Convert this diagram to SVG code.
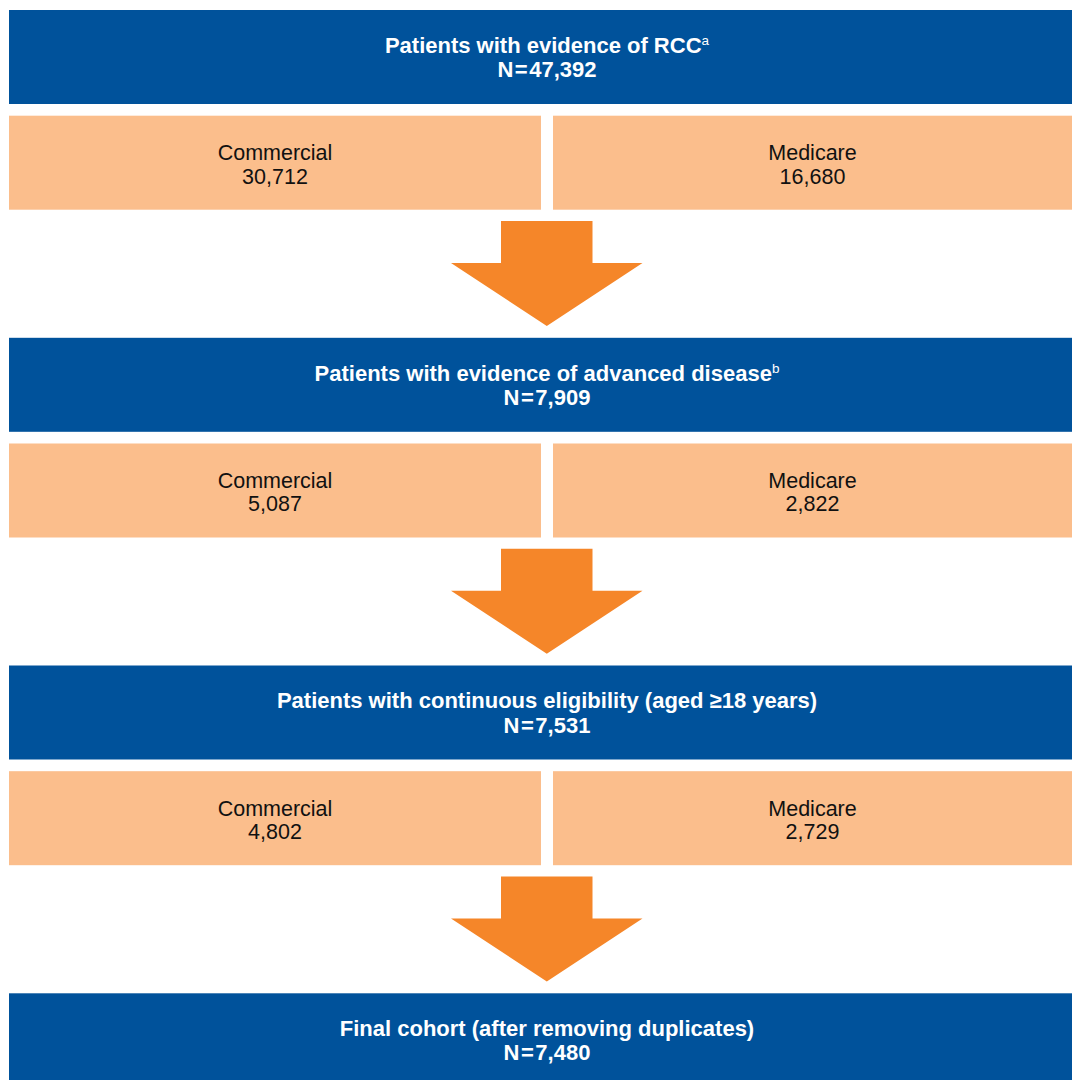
<svg xmlns="http://www.w3.org/2000/svg" width="1072" height="1080" viewBox="0 0 1072 1080">
<style>
.blue{fill:#00529B}
.peach{fill:#FBBE8C}
.arrow{fill:#F58629}
.t{font-family:"Liberation Sans",Arial,sans-serif;font-size:21.5px;text-anchor:middle}
.tb{fill:#FFFFFF;font-weight:bold;font-size:22px}
.tr{fill:#111111}
.sup{font-size:13.5px;font-weight:normal}
</style>
<rect width="1072" height="1080" fill="#FFFFFF"/>
<defs>
<polygon id="arr" points="501,0 592.5,0 592.5,42 642.5,42 546.8,105 451,42 501,42"/>
</defs>
<g id="connectors">
<use href="#arr" class="arrow" y="221"/>
<use href="#arr" class="arrow" y="548.8"/>
<use href="#arr" class="arrow" y="876.5"/>
</g>
<g id="rcc">
<rect class="blue" x="9" y="10" width="1063" height="94"/>
<text class="t tb" x="547" y="52.7">Patients with evidence of RCC<tspan class="sup" dy="-7.5">a</tspan></text>
<text class="t tb" x="547" y="77">N<tspan dx="1.5">=</tspan><tspan dx="1.5">47,392</tspan></text>
</g>
<g id="rcc-commercial">
<rect class="peach" x="9" y="115.7" width="532" height="94"/>
<text class="t tr" x="275" y="160">Commercial</text>
<text class="t tr" x="275" y="183.5">30,712</text>
</g>
<g id="rcc-medicare">
<rect class="peach" x="553" y="115.7" width="519" height="94"/>
<text class="t tr" x="812.5" y="160">Medicare</text>
<text class="t tr" x="812.5" y="183.5">16,680</text>
</g>
<g id="advanced">
<rect class="blue" x="9" y="337.8" width="1063" height="94"/>
<text class="t tb" x="547" y="380.5">Patients with evidence of advanced disease<tspan class="sup" dy="-7.5">b</tspan></text>
<text class="t tb" x="547" y="404.8">N<tspan dx="1.5">=</tspan><tspan dx="1.5">7,909</tspan></text>
</g>
<g id="advanced-commercial">
<rect class="peach" x="9" y="443.5" width="532" height="94"/>
<text class="t tr" x="275" y="487.8">Commercial</text>
<text class="t tr" x="275" y="511.3">5,087</text>
</g>
<g id="advanced-medicare">
<rect class="peach" x="553" y="443.5" width="519" height="94"/>
<text class="t tr" x="812.5" y="487.8">Medicare</text>
<text class="t tr" x="812.5" y="511.3">2,822</text>
</g>
<g id="eligibility">
<rect class="blue" x="9" y="665.5" width="1063" height="94"/>
<text class="t tb" x="547" y="708.2">Patients with continuous eligibility (aged ≥18 years)</text>
<text class="t tb" x="547" y="732.5">N<tspan dx="1.5">=</tspan><tspan dx="1.5">7,531</tspan></text>
</g>
<g id="eligibility-commercial">
<rect class="peach" x="9" y="771.2" width="532" height="94"/>
<text class="t tr" x="275" y="815.5">Commercial</text>
<text class="t tr" x="275" y="839">4,802</text>
</g>
<g id="eligibility-medicare">
<rect class="peach" x="553" y="771.2" width="519" height="94"/>
<text class="t tr" x="812.5" y="815.5">Medicare</text>
<text class="t tr" x="812.5" y="839">2,729</text>
</g>
<g id="final">
<rect class="blue" x="9" y="993.3" width="1063" height="94"/>
<text class="t tb" x="547" y="1036">Final cohort (after removing duplicates)</text>
<text class="t tb" x="547" y="1060.3">N<tspan dx="1.5">=</tspan><tspan dx="1.5">7,480</tspan></text>
</g>
</svg>
